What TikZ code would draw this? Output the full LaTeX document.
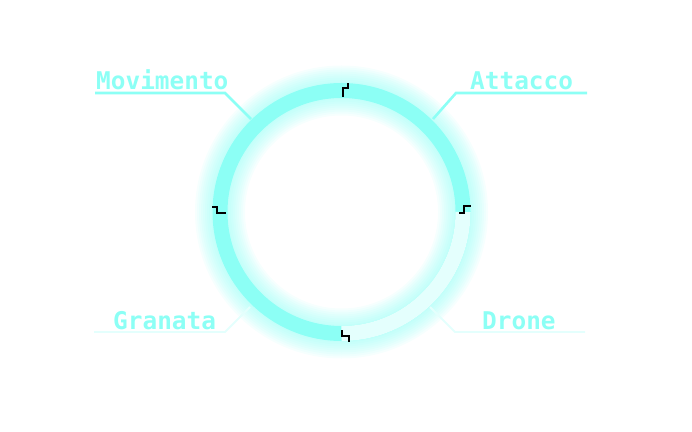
\documentclass[tikz,border=0pt]{standalone}
\usepackage{fontspec}
\usepackage{xcolor}
\usepackage{tikz}
\usetikzlibrary{positioning,calc}
\newfontfamily\pixfont{DejaVu Sans Mono}
\definecolor{neon}{RGB}{140,255,245}
\definecolor{neonpale}{RGB}{228,255,253}

\begin{document}
\begin{tikzpicture}[
    x=1pt, y=1pt,
    label/.style={
        font=\pixfont\bfseries\fontsize{24.4}{24.4}\selectfont,
        text=neon,
        inner sep=0pt,
        anchor=base west
    },
    lead/.style={neon, line width=2.6pt},
    leadpale/.style={neonpale, line width=1.8pt},
    tick/.style={black, line width=1.6pt}
]
\useasboundingbox (0,0) rectangle (692,431);
\coordinate (c) at (341.5,219);

% glow and ring
\foreach \w in {50,46,...,18}
    \draw[neon, line width=\w pt, opacity=0.08] (c) circle (121.5);
\draw[neon, line width=15pt] (c) circle (121.5);
\draw[neonpale, line width=15pt] ($(c)+(0,-121.5)$) arc (-90:0:121.5);

% quadrant ticks
\draw[tick] (343,334) -- (343,343) -- (348,343) -- (348,348);
\draw[tick] (212,224) -- (217,224) -- (217,218) -- (226,218);
\draw[tick] (459,218) -- (464,218) -- (464,225) -- (471,225);
\draw[tick] (342,101) -- (342,95) -- (349,95) -- (349,89);

% labels
\node[label] (mov) at (96,341.7) {Movimento};
\node[label] (att) at (470,341.7) {Attacco};
\node[label] (gra) at (113,101.7) {Granata};
\node[label] (dro) at (482,101.7) {Drone};

\coordinate (movend) at (95,338);
\coordinate (movknee) at (225,338);
\coordinate (movring) at (251,312);
\coordinate (attend) at (587,338);
\coordinate (attknee) at (456,338);
\coordinate (attring) at (433,312);
\coordinate (graend) at (94,99);
\coordinate (graknee) at (225,99);
\coordinate (graring) at (250,124);
\coordinate (droend) at (585,99);
\coordinate (droknee) at (455,99);
\coordinate (droring) at (430,124);

\draw[lead] (movend) -- (movknee) -- (movring);
\draw[lead] (attend) -- (attknee) -- (attring);
\draw[leadpale] (graend) -- (graknee) -- (graring);
\draw[leadpale] (droend) -- (droknee) -- (droring);
\end{tikzpicture}
\end{document}
